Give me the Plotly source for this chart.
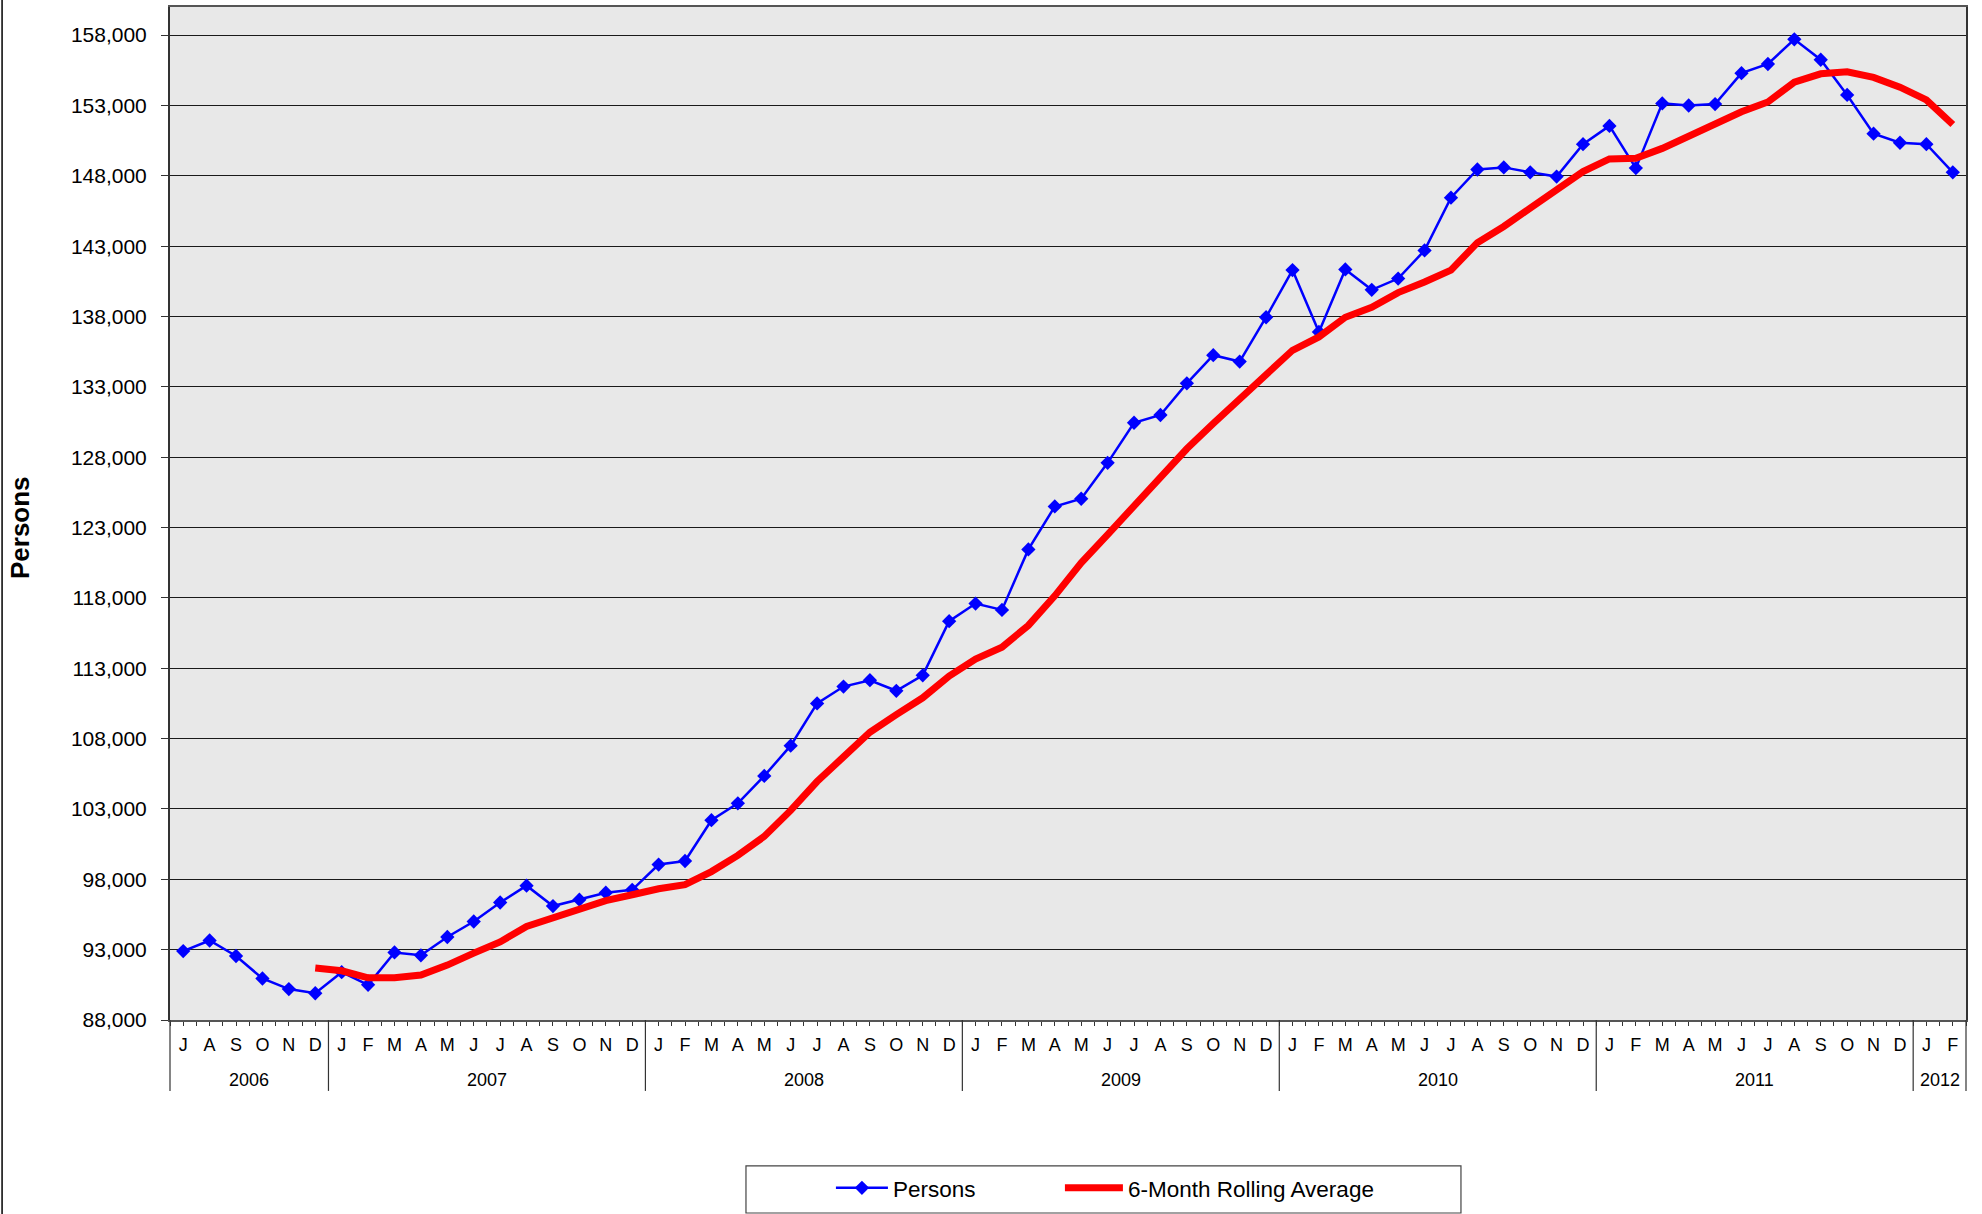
import plotly.graph_objects as go

# ---------------- data ----------------
MONTHS = ["J", "A", "S", "O", "N", "D",
          "J", "F", "M", "A", "M", "J", "J", "A", "S", "O", "N", "D",
          "J", "F", "M", "A", "M", "J", "J", "A", "S", "O", "N", "D",
          "J", "F", "M", "A", "M", "J", "J", "A", "S", "O", "N", "D",
          "J", "F", "M", "A", "M", "J", "J", "A", "S", "O", "N", "D",
          "J", "F", "M", "A", "M", "J", "J", "A", "S", "O", "N", "D",
          "J", "F"]
YEARS = (["2006"] * 6 + ["2007"] * 12 + ["2008"] * 12 + ["2009"] * 12 +
         ["2010"] * 12 + ["2011"] * 12 + ["2012"] * 2)

PERSONS = [92900, 93650, 92550, 90950, 90200, 89900,
           91400, 90500, 92800, 92600, 93900, 95000, 96350, 97550, 96100, 96550, 97050, 97250,
           99050, 99300, 102200, 103400, 105350, 107500, 110500, 111700, 112150, 111400, 112500, 116350,
           117600, 117150, 121450, 124500, 125050, 127600, 130450, 131000, 133250, 135250, 134800, 137950,
           141300, 136900, 141350, 139900, 140700, 142700, 146450, 148450, 148600, 148250, 147950, 150250,
           151550, 148550, 153150, 153000, 153100, 155300, 155950, 157700, 156250, 153750, 151000, 150350,
           150250, 148250]

ROLLING = [None, None, None, None, None, 91700,
           91500, 91000, 91000, 91200, 91900, 92750, 93550, 94650, 95300, 95950, 96480, 96900,
           97330, 97620, 98550, 99700, 101050, 102900, 104950, 106700, 108450, 109700, 110900, 112450,
           113650, 114500, 116050, 118150, 120500, 122500, 124550, 126700, 128600, 130400, 132100, 133800,
           135600, 136550, 137950, 138650, 139700, 140450, 141300, 143250, 144400, 145700, 147000, 148300,
           149200, 149250, 149950, 150800, 151700, 152550, 153250, 154650, 155250, 155400, 155000, 154300,
           153400, 151650]

Y_MIN, Y_MAX, Y_STEP = 88000, 160000, 5000

# ---------------- derived positions ----------------
x_idx = list(range(len(MONTHS)))
year_order = []
for y in YEARS:
    if y not in year_order:
        year_order.append(y)
year_groups = {y: [i for i, yy in enumerate(YEARS) if yy == y] for y in year_order}
boundaries = [i - 0.5 for i in range(len(MONTHS) + 1)]
year_bounds = [year_groups[y][0] - 0.5 for y in year_order] + [len(MONTHS) - 0.5]

FONT = "Liberation Sans, Arial, sans-serif"

fig = go.Figure()
fig.add_trace(go.Scatter(
    x=x_idx, y=PERSONS, name="Persons", mode="lines+markers",
    line=dict(color="#0000FF", width=2.5),
    marker=dict(symbol="diamond", size=11, color="#0000FF"),
    legend="legend",
))
fig.add_trace(go.Scatter(
    x=x_idx, y=ROLLING, name="6-Month Rolling Average", mode="lines",
    line=dict(color="#FF0000", width=7),
    legend="legend2",
))

shapes = []
# year separators below the axis
for b in year_bounds:
    if b == year_bounds[0]:
        shapes.append(dict(type="line", xref="paper", yref="paper", x0=0, x1=0, y0=0, y1=-0.07,
                           line=dict(color="#333333", width=1.2)))
    elif b == year_bounds[-1]:
        shapes.append(dict(type="line", xref="paper", yref="paper", x0=1, x1=1, y0=0, y1=-0.07,
                           line=dict(color="#333333", width=1.2)))
    else:
        shapes.append(dict(type="line", xref="x", yref="paper", x0=b, x1=b, y0=0, y1=-0.07,
                           line=dict(color="#333333", width=1.2)))
# outer chart border on the left
shapes.append(dict(type="line", xref="paper", yref="paper", x0=-0.0935, x1=-0.0935, y0=-0.2, y1=1.01,
                   line=dict(color="#000000", width=1.5)))
# legend frame
shapes.append(dict(type="rect", xref="paper", yref="paper", x0=0.3207, x1=0.7188, y0=-0.1905, y1=-0.1441,
                   line=dict(color="#444444", width=1.2), fillcolor="rgba(0,0,0,0)"))

annotations = []
for y in year_order:
    idx = year_groups[y]
    annotations.append(dict(x=(idx[0] + idx[-1]) / 2, y=-0.059, xref="x", yref="paper",
                            text=y, showarrow=False, yanchor="middle",
                            font=dict(size=18, color="#000000", family=FONT)))
annotations.append(dict(x=-0.0835, y=0.4857, xref="paper", yref="paper", text="<b>Persons</b>",
                        textangle=-90, showarrow=False, xanchor="center", yanchor="middle",
                        font=dict(size=26, color="#000000", family=FONT)))

legend_common = dict(orientation="h", yanchor="middle", y=-0.166,
                     bgcolor="rgba(0,0,0,0)", borderwidth=0, font=dict(size=22.5, family=FONT))

fig.update_layout(
    width=1982, height=1214,
    margin=dict(l=170, r=16, t=7, b=194, autoexpand=False),
    paper_bgcolor="#FFFFFF", plot_bgcolor="#E8E8E8",
    font=dict(family=FONT, color="#000000"),
    shapes=shapes, annotations=annotations,
    showlegend=True,
    legend=dict(x=0.368, xanchor="left", itemwidth=52, **legend_common),
    legend2=dict(x=0.4955, xanchor="left", itemwidth=58, **legend_common),
    xaxis=dict(range=[-0.5, len(MONTHS) - 0.5], tickmode="array", tickvals=x_idx, ticktext=MONTHS,
               ticks="outside", ticklen=4, tickcolor="#333333", showgrid=False, zeroline=False,
               showline=True, linecolor="#555555", linewidth=2, mirror=True,
               ticklabelstandoff=3,
               tickfont=dict(size=18, color="#000000", family=FONT),
               minor=dict(tickmode="array", tickvals=boundaries, ticks="outside", ticklen=4,
                          tickcolor="#333333", showgrid=False)),
    yaxis=dict(range=[Y_MIN, Y_MAX], tick0=Y_MIN, dtick=Y_STEP, tickformat=",d",
               showgrid=True, gridcolor="#1A1A1A", gridwidth=1, zeroline=False,
               ticks="outside", ticklen=7, tickcolor="#333333",
               showline=True, linecolor="#333333", linewidth=2, mirror=True,
               ticklabelstandoff=10,
               tickfont=dict(size=21, color="#000000", family=FONT)),
)

fig.write_html("out.html", config={"displayModeBar": False},
               post_script="document.body.style.margin='0';")
